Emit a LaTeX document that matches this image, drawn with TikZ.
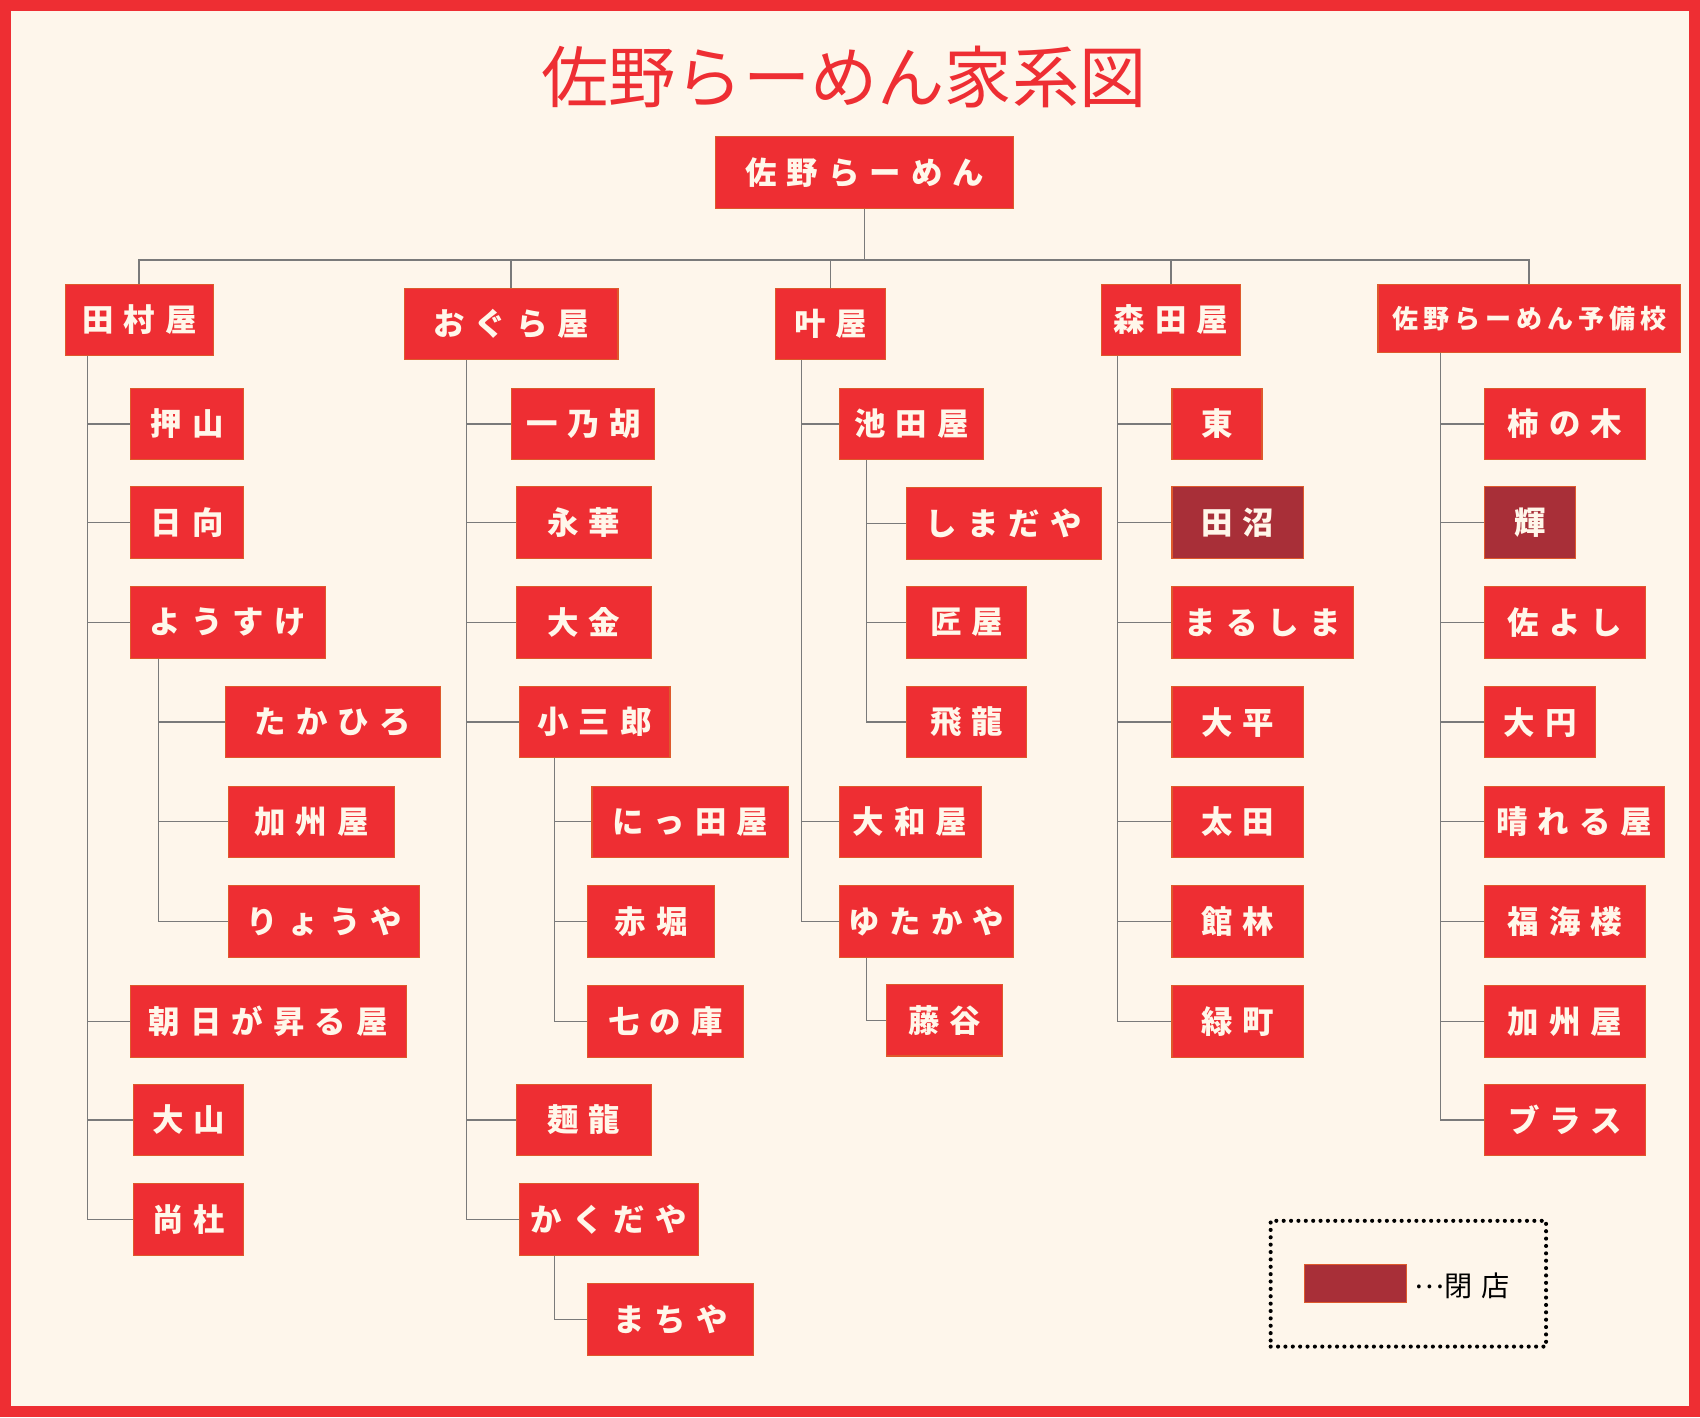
\documentclass[tikz,border=0pt]{standalone}
\usepackage{fontspec}
\usepackage{xcolor}
\usepackage{tikz}
\usetikzlibrary{calc}
\newfontfamily\jp[LetterSpace=32]{Noto Sans CJK JP}
\newfontfamily\jpsmall[LetterSpace=19]{Noto Sans CJK JP}
\newfontfamily\jptitle{Noto Sans CJK JP}
\definecolor{ramenred}{HTML}{EE2E33}
\definecolor{closedred}{HTML}{A82F38}
\definecolor{boxedge}{HTML}{DD5A2C}
\definecolor{cream}{HTML}{FEF6EB}
\definecolor{boxtext}{HTML}{FFF7EA}
\definecolor{linkgray}{HTML}{7A7A7A}

\begin{document}
\begin{tikzpicture}[x=0.5pt, y=-0.5pt,
	shop/.style={draw=boxedge, line width=0.5pt, fill=ramenred, text=boxtext, inner sep=0pt,
		font=\jp\bfseries\fontsize{14.5}{16}\selectfont, minimum height=33pt, minimum width=#1*0.5pt},
	shop/.default=121,
	closed/.style={shop=#1, fill=closedred},
	closed/.default=121,
	link/.style={draw=linkgray, line width=0.6pt},
	title/.style={text=ramenred, font=\jptitle\fontsize{31}{34}\selectfont}]

	\useasboundingbox (0,0) rectangle (1568,1307);
	\fill[ramenred] (0,0) rectangle (1568,1307);
	\fill[cream] (10,10) rectangle (1558,1297);

	\node[title] (title) at (778.5,71) {佐野らーめん家系図};
	\node[shop=275] (root) at (797.5,159) {佐野らーめん};

	% 田村屋
	\node[shop=137] (tamura) at (128.5,295) {田村屋};
	\node[shop=105] (oshiyama) at (172.5,391) {押山};
	\node[shop=105] (hinata) at (172.5,482) {日向};
	\node[shop=180] (yousuke) at (210,574) {ようすけ};
	\node[shop=198] (takahiro) at (307,666) {たかひろ};
	\node[shop=153] (kashuA) at (287.5,758) {加州屋};
	\node[shop=176] (ryouya) at (299,850) {りょうや};
	\node[shop=255] (asahi) at (247.5,942) {朝日が昇る屋};
	\node[shop=102] (ooyama) at (174,1033) {大山};
	\node[shop=102] (shousha) at (174,1125) {尚杜};

	% おぐら屋
	\node[shop=197] (ogura) at (471.5,299) {おぐら屋};
	\node[shop=132] (ichinoko) at (538,391) {一乃胡};
	\node[shop=125] (eika) at (538.5,482) {永華};
	\node[shop=125] (taikin) at (538.5,574) {大金};
	\node[shop=139] (kosaburo) at (548.5,666) {小三郎};
	\node[shop=181] (nitta) at (636.5,758) {にっ田屋};
	\node[shop=117] (akabori) at (600.5,850) {赤堀};
	\node[shop=144] (nananokura) at (614,942) {七の庫};
	\node[shop=125] (menryu) at (538.5,1033) {麺龍};
	\node[shop=165] (kakudaya) at (561.5,1125) {かくだや};
	\node[shop=153] (machiya) at (618.5,1217) {まちや};

	% 叶屋
	\node[shop=102] (kanou) at (766,299) {叶屋};
	\node[shop=133] (ikedaya) at (840.5,391) {池田屋};
	\node[shop=180] (shimadaya) at (926,483) {しまだや};
	\node[shop=111] (takumiya) at (891.5,574) {匠屋};
	\node[shop=111] (hiryu) at (891.5,666) {飛龍};
	\node[shop=131] (yamatoya) at (839.5,758) {大和屋};
	\node[shop=161] (yutakaya) at (854.5,850) {ゆたかや};
	\node[shop=107] (fujiya) at (871.5,941) {藤谷};

	% 森田屋
	\node[shop=128] (morita) at (1080,295) {森田屋};
	\node[shop=83] (azuma) at (1122.5,391) {東};
	\node[closed] (tanuma) at (1141.5,482) {田沼};
	\node[shop=167] (marushima) at (1164.5,574) {まるしま};
	\node[shop] (ohira) at (1141.5,666) {大平};
	\node[shop] (ota) at (1141.5,758) {太田};
	\node[shop] (tatebayashi) at (1141.5,850) {館林};
	\node[shop] (midoricho) at (1141.5,942) {緑町};

	% 佐野らーめん予備校
	\node[shop=279, minimum height=31.5pt, font=\jpsmall\bfseries\fontsize{12}{14}\selectfont] (yobiko) at (1410.5,293.5) {佐野らーめん予備校};
	\node[shop=149] (kakinoki) at (1443.5,391) {柿の木};
	\node[closed=84] (hikari) at (1411,482) {輝};
	\node[shop=149] (sayoshi) at (1443.5,574) {佐よし};
	\node[shop=103] (daien) at (1420.5,666) {大円};
	\node[shop=166] (hareruya) at (1452,758) {晴れる屋};
	\node[shop=149] (fukukairo) at (1443.5,850) {福海楼};
	\node[shop=149] (kashuB) at (1443.5,942) {加州屋};
	\node[shop=149] (purasu) at (1443.5,1033) {ブラス};

	\coordinate (bus) at (797.5,240);
	\draw[link] (root) -- (bus);
	\foreach \c in {tamura, ogura, kanou, morita, yobiko}
		\draw[link, line width=0.9pt] (bus) -| (\c);

	\foreach \c in {oshiyama, hinata, yousuke, asahi, ooyama, shousha}
		\draw[link] ($(tamura.south west)+(21,0)$) |- (\c);
	\foreach \c in {takahiro, kashuA, ryouya}
		\draw[link] ($(yousuke.south west)+(27,0)$) |- (\c);
	\foreach \c in {ichinoko, eika, taikin, kosaburo, menryu, kakudaya}
		\draw[link] ($(ogura.south west)+(58,0)$) |- (\c);
	\foreach \c in {nitta, akabori, nananokura}
		\draw[link] ($(kosaburo.south west)+(33,0)$) |- (\c);
	\draw[link] ($(kakudaya.south west)+(33,0)$) |- (machiya);
	\foreach \c in {ikedaya, yamatoya, yutakaya}
		\draw[link] ($(kanou.south west)+(25,0)$) |- (\c);
	\foreach \c in {shimadaya, takumiya, hiryu}
		\draw[link] ($(ikedaya.south west)+(26,0)$) |- (\c);
	\draw[link] ($(yutakaya.south west)+(26,0)$) |- (fujiya);
	\foreach \c in {azuma, tanuma, marushima, ohira, ota, tatebayashi, midoricho}
		\draw[link] ($(morita.south west)+(15,0)$) |- (\c);
	\foreach \c in {kakinoki, hikari, sayoshi, daien, hareruya, fukukairo, kashuB, purasu}
		\draw[link] ($(yobiko.south west)+(58,0)$) |- (\c);

	% 凡例
	\node[draw=black, line width=1.9pt, line cap=round, dash pattern=on 0pt off 3.4pt,
		minimum width=127pt, minimum height=58pt] (legend) at (1299,1184) {};
	\node[closed=94, minimum height=17.5pt] (swatch) at (1250,1183.5) {};
	\node[anchor=west, inner sep=0pt, font=\jp\fontsize{13}{15}\selectfont] (legendtext) at (1304,1186) {\raisebox{0.3em}{…}閉店};
\end{tikzpicture}
\end{document}
